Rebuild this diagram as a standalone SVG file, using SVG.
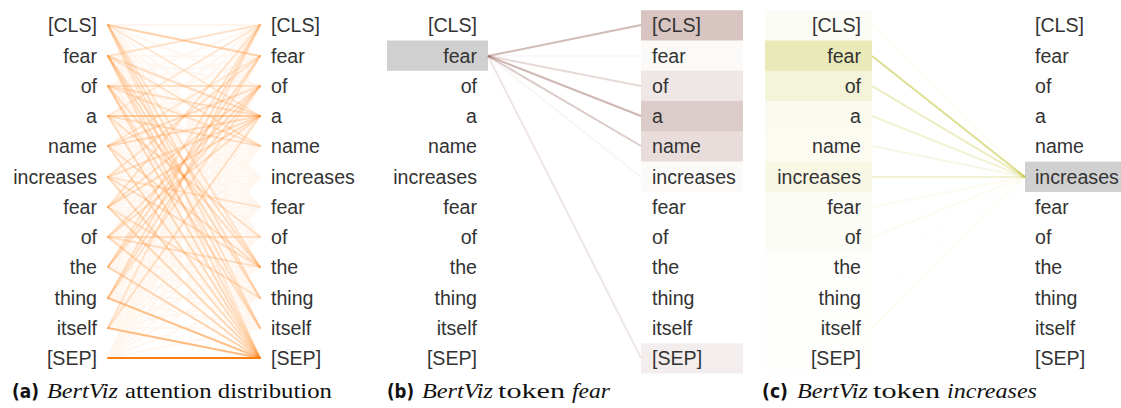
<svg xmlns="http://www.w3.org/2000/svg" width="1121" height="408" viewBox="0 0 1121 408">
  <style>
    .tok { font-family: "Liberation Sans", Arial, sans-serif; font-size: 19.6px; fill: #333; }
    .l { text-anchor: end; }
    .r { text-anchor: start; }
    .a-ln { stroke: #ff7f0e; stroke-width: 2; fill: none; stroke-linecap: round; }
    .b-ln { stroke: #8c564b; stroke-width: 2; fill: none; }
    .c-ln { stroke: #bcbd22; stroke-width: 2; fill: none; }
    .b-box { fill: #8c564b; }
    .c-box { fill: #bcbd22; }
    .sel { fill: #d0d0d0; }
    .cap-tag { font-family: "DejaVu Sans", "Liberation Sans", sans-serif; font-weight: bold; font-size: 19px; fill: #111; }
    .cap { font-family: "Liberation Serif", "Times New Roman", serif; font-size: 21px; fill: #111; }
    .it { font-style: italic; }
  </style>
  <rect width="1121" height="408" fill="#fff"/>

  <!-- ===== (a) attention distribution ===== -->
  <g id="panel-a-connectors">
    <!-- faint base: every left token to every right token -->
    <g opacity="0.06">
      <path class="a-ln" d="M108,25L260,25M108,25L260,56M108,25L260,86M108,25L260,116M108,25L260,146M108,25L260,177M108,25L260,207M108,25L260,237M108,25L260,267M108,25L260,298M108,25L260,328M108,25L260,358"/>
      <path class="a-ln" d="M108,56L260,25M108,56L260,56M108,56L260,86M108,56L260,116M108,56L260,146M108,56L260,177M108,56L260,207M108,56L260,237M108,56L260,267M108,56L260,298M108,56L260,328M108,56L260,358"/>
      <path class="a-ln" d="M108,86L260,25M108,86L260,56M108,86L260,86M108,86L260,116M108,86L260,146M108,86L260,177M108,86L260,207M108,86L260,237M108,86L260,267M108,86L260,298M108,86L260,328M108,86L260,358"/>
      <path class="a-ln" d="M108,116L260,25M108,116L260,56M108,116L260,86M108,116L260,116M108,116L260,146M108,116L260,177M108,116L260,207M108,116L260,237M108,116L260,267M108,116L260,298M108,116L260,328M108,116L260,358"/>
      <path class="a-ln" d="M108,146L260,25M108,146L260,56M108,146L260,86M108,146L260,116M108,146L260,146M108,146L260,177M108,146L260,207M108,146L260,237M108,146L260,267M108,146L260,298M108,146L260,328M108,146L260,358"/>
      <path class="a-ln" d="M108,177L260,25M108,177L260,56M108,177L260,86M108,177L260,116M108,177L260,146M108,177L260,177M108,177L260,207M108,177L260,237M108,177L260,267M108,177L260,298M108,177L260,328M108,177L260,358"/>
      <path class="a-ln" d="M108,207L260,25M108,207L260,56M108,207L260,86M108,207L260,116M108,207L260,146M108,207L260,177M108,207L260,207M108,207L260,237M108,207L260,267M108,207L260,298M108,207L260,328M108,207L260,358"/>
      <path class="a-ln" d="M108,237L260,25M108,237L260,56M108,237L260,86M108,237L260,116M108,237L260,146M108,237L260,177M108,237L260,207M108,237L260,237M108,237L260,267M108,237L260,298M108,237L260,328M108,237L260,358"/>
      <path class="a-ln" d="M108,267L260,25M108,267L260,56M108,267L260,86M108,267L260,116M108,267L260,146M108,267L260,177M108,267L260,207M108,267L260,237M108,267L260,267M108,267L260,298M108,267L260,328M108,267L260,358"/>
      <path class="a-ln" d="M108,298L260,25M108,298L260,56M108,298L260,86M108,298L260,116M108,298L260,146M108,298L260,177M108,298L260,207M108,298L260,237M108,298L260,267M108,298L260,298M108,298L260,328M108,298L260,358"/>
      <path class="a-ln" d="M108,328L260,25M108,328L260,56M108,328L260,86M108,328L260,116M108,328L260,146M108,328L260,177M108,328L260,207M108,328L260,237M108,328L260,267M108,328L260,298M108,328L260,328M108,328L260,358"/>
      <path class="a-ln" d="M108,358L260,25M108,358L260,56M108,358L260,86M108,358L260,116M108,358L260,146M108,358L260,177M108,358L260,207M108,358L260,237M108,358L260,267M108,358L260,298M108,358L260,328"/>
    </g>
    <!-- stronger attention weights -->
    <line class="a-ln" x1="108" y1="25" x2="260" y2="56" opacity="0.3"/>
    <line class="a-ln" x1="108" y1="25" x2="260" y2="116" opacity="0.13"/>
    <line class="a-ln" x1="108" y1="25" x2="260" y2="267" opacity="0.17"/>
    <line class="a-ln" x1="108" y1="25" x2="260" y2="298" opacity="0.2"/>
    <line class="a-ln" x1="108" y1="25" x2="260" y2="328" opacity="0.17"/>
    <line class="a-ln" x1="108" y1="25" x2="260" y2="358" opacity="0.13"/>

    <line class="a-ln" x1="108" y1="56" x2="260" y2="25" opacity="0.17"/>
    <line class="a-ln" x1="108" y1="56" x2="260" y2="116" opacity="0.2"/>
    <line class="a-ln" x1="108" y1="56" x2="260" y2="146" opacity="0.17"/>
    <line class="a-ln" x1="108" y1="56" x2="260" y2="267" opacity="0.2"/>
    <line class="a-ln" x1="108" y1="56" x2="260" y2="298" opacity="0.23"/>
    <line class="a-ln" x1="108" y1="56" x2="260" y2="328" opacity="0.2"/>
    <line class="a-ln" x1="108" y1="56" x2="260" y2="358" opacity="0.2"/>

    <line class="a-ln" x1="108" y1="86" x2="260" y2="86" opacity="0.2"/>
    <line class="a-ln" x1="108" y1="86" x2="260" y2="116" opacity="0.2"/>
    <line class="a-ln" x1="108" y1="86" x2="260" y2="146" opacity="0.17"/>
    <line class="a-ln" x1="108" y1="86" x2="260" y2="267" opacity="0.2"/>
    <line class="a-ln" x1="108" y1="86" x2="260" y2="328" opacity="0.2"/>
    <line class="a-ln" x1="108" y1="86" x2="260" y2="358" opacity="0.23"/>

    <line class="a-ln" x1="108" y1="116" x2="260" y2="25" opacity="0.13"/>
    <line class="a-ln" x1="108" y1="116" x2="260" y2="116" opacity="0.35"/>
    <line class="a-ln" x1="108" y1="116" x2="260" y2="146" opacity="0.2"/>
    <line class="a-ln" x1="108" y1="116" x2="260" y2="237" opacity="0.2"/>
    <line class="a-ln" x1="108" y1="116" x2="260" y2="358" opacity="0.23"/>

    <line class="a-ln" x1="108" y1="146" x2="260" y2="56" opacity="0.13"/>
    <line class="a-ln" x1="108" y1="146" x2="260" y2="86" opacity="0.2"/>
    <line class="a-ln" x1="108" y1="146" x2="260" y2="116" opacity="0.23"/>
    <line class="a-ln" x1="108" y1="146" x2="260" y2="267" opacity="0.2"/>
    <line class="a-ln" x1="108" y1="146" x2="260" y2="358" opacity="0.23"/>

    <line class="a-ln" x1="108" y1="177" x2="260" y2="56" opacity="0.17"/>
    <line class="a-ln" x1="108" y1="177" x2="260" y2="116" opacity="0.2"/>
    <line class="a-ln" x1="108" y1="177" x2="260" y2="207" opacity="0.17"/>
    <line class="a-ln" x1="108" y1="177" x2="260" y2="267" opacity="0.2"/>
    <line class="a-ln" x1="108" y1="177" x2="260" y2="358" opacity="0.23"/>

    <line class="a-ln" x1="108" y1="207" x2="260" y2="25" opacity="0.17"/>
    <line class="a-ln" x1="108" y1="207" x2="260" y2="86" opacity="0.2"/>
    <line class="a-ln" x1="108" y1="207" x2="260" y2="116" opacity="0.23"/>
    <line class="a-ln" x1="108" y1="207" x2="260" y2="298" opacity="0.2"/>
    <line class="a-ln" x1="108" y1="207" x2="260" y2="358" opacity="0.26"/>

    <line class="a-ln" x1="108" y1="237" x2="260" y2="86" opacity="0.2"/>
    <line class="a-ln" x1="108" y1="237" x2="260" y2="116" opacity="0.2"/>
    <line class="a-ln" x1="108" y1="237" x2="260" y2="237" opacity="0.2"/>
    <line class="a-ln" x1="108" y1="237" x2="260" y2="267" opacity="0.2"/>
    <line class="a-ln" x1="108" y1="237" x2="260" y2="358" opacity="0.26"/>

    <line class="a-ln" x1="108" y1="267" x2="260" y2="25" opacity="0.17"/>
    <line class="a-ln" x1="108" y1="267" x2="260" y2="56" opacity="0.2"/>
    <line class="a-ln" x1="108" y1="267" x2="260" y2="86" opacity="0.2"/>
    <line class="a-ln" x1="108" y1="267" x2="260" y2="358" opacity="0.3"/>

    <line class="a-ln" x1="108" y1="298" x2="260" y2="25" opacity="0.2"/>
    <line class="a-ln" x1="108" y1="298" x2="260" y2="56" opacity="0.2"/>
    <line class="a-ln" x1="108" y1="298" x2="260" y2="86" opacity="0.17"/>
    <line class="a-ln" x1="108" y1="298" x2="260" y2="358" opacity="0.45"/>

    <line class="a-ln" x1="108" y1="328" x2="260" y2="25" opacity="0.17"/>
    <line class="a-ln" x1="108" y1="328" x2="260" y2="116" opacity="0.2"/>
    <line class="a-ln" x1="108" y1="328" x2="260" y2="358" opacity="0.5"/>

    <line class="a-ln" x1="108" y1="358" x2="260" y2="358" opacity="1" stroke-width="2.5"/>
  </g>

  <g id="panel-a-left">
    <text class="tok l" x="97" y="32">[CLS]</text>
    <text class="tok l" x="97" y="63">fear</text>
    <text class="tok l" x="97" y="93">of</text>
    <text class="tok l" x="97" y="123">a</text>
    <text class="tok l" x="97" y="153">name</text>
    <text class="tok l" x="97" y="184">increases</text>
    <text class="tok l" x="97" y="214">fear</text>
    <text class="tok l" x="97" y="244">of</text>
    <text class="tok l" x="97" y="274">the</text>
    <text class="tok l" x="97" y="305">thing</text>
    <text class="tok l" x="97" y="335">itself</text>
    <text class="tok l" x="97" y="365">[SEP]</text>
  </g>
  <g id="panel-a-right">
    <text class="tok r" x="271" y="32">[CLS]</text>
    <text class="tok r" x="271" y="63">fear</text>
    <text class="tok r" x="271" y="93">of</text>
    <text class="tok r" x="271" y="123">a</text>
    <text class="tok r" x="271" y="153">name</text>
    <text class="tok r" x="271" y="184">increases</text>
    <text class="tok r" x="271" y="214">fear</text>
    <text class="tok r" x="271" y="244">of</text>
    <text class="tok r" x="271" y="274">the</text>
    <text class="tok r" x="271" y="305">thing</text>
    <text class="tok r" x="271" y="335">itself</text>
    <text class="tok r" x="271" y="365">[SEP]</text>
  </g>

  <!-- ===== (b) token "fear" ===== -->
  <g id="panel-b-boxes">
    <rect class="sel" x="387" y="40.5" width="101" height="30.3"/>
    <rect class="b-box" x="641" y="10.2" width="102" height="30.3" opacity="0.34"/>
    <rect class="b-box" x="641" y="40.5" width="102" height="30.3" opacity="0.03"/>
    <rect class="b-box" x="641" y="70.7" width="102" height="30.3" opacity="0.14"/>
    <rect class="b-box" x="641" y="101" width="102" height="30.3" opacity="0.3"/>
    <rect class="b-box" x="641" y="131.3" width="102" height="30.3" opacity="0.2"/>
    <rect class="b-box" x="641" y="161.6" width="102" height="30.3" opacity="0.03"/>
    <rect class="b-box" x="641" y="343.2" width="102" height="30.3" opacity="0.1"/>
  </g>
  <g id="panel-b-connectors">
    <line class="b-ln" x1="488" y1="56" x2="641" y2="25" opacity="0.4"/>
    <line class="b-ln" x1="488" y1="56" x2="641" y2="56" opacity="0.04"/>
    <line class="b-ln" x1="488" y1="56" x2="641" y2="86" opacity="0.22"/>
    <line class="b-ln" x1="488" y1="56" x2="641" y2="116" opacity="0.42"/>
    <line class="b-ln" x1="488" y1="56" x2="641" y2="146" opacity="0.3"/>
    <line class="b-ln" x1="488" y1="56" x2="641" y2="177" opacity="0.05"/>
    <line class="b-ln" x1="488" y1="56" x2="641" y2="358" opacity="0.15"/>
  </g>
  <g id="panel-b-left">
    <text class="tok l" x="477" y="32">[CLS]</text>
    <text class="tok l" x="477" y="63">fear</text>
    <text class="tok l" x="477" y="93">of</text>
    <text class="tok l" x="477" y="123">a</text>
    <text class="tok l" x="477" y="153">name</text>
    <text class="tok l" x="477" y="184">increases</text>
    <text class="tok l" x="477" y="214">fear</text>
    <text class="tok l" x="477" y="244">of</text>
    <text class="tok l" x="477" y="274">the</text>
    <text class="tok l" x="477" y="305">thing</text>
    <text class="tok l" x="477" y="335">itself</text>
    <text class="tok l" x="477" y="365">[SEP]</text>
  </g>
  <g id="panel-b-right">
    <text class="tok r" x="652" y="32">[CLS]</text>
    <text class="tok r" x="652" y="63">fear</text>
    <text class="tok r" x="652" y="93">of</text>
    <text class="tok r" x="652" y="123">a</text>
    <text class="tok r" x="652" y="153">name</text>
    <text class="tok r" x="652" y="184">increases</text>
    <text class="tok r" x="652" y="214">fear</text>
    <text class="tok r" x="652" y="244">of</text>
    <text class="tok r" x="652" y="274">the</text>
    <text class="tok r" x="652" y="305">thing</text>
    <text class="tok r" x="652" y="335">itself</text>
    <text class="tok r" x="652" y="365">[SEP]</text>
  </g>

  <!-- ===== (c) token "increases" ===== -->
  <g id="panel-c-boxes">
    <rect class="c-box" x="765" y="10.2" width="107" height="30.3" opacity="0.04"/>
    <rect class="c-box" x="765" y="40.5" width="107" height="30.3" opacity="0.32"/>
    <rect class="c-box" x="765" y="70.7" width="107" height="30.3" opacity="0.17"/>
    <rect class="c-box" x="765" y="101" width="107" height="30.3" opacity="0.08"/>
    <rect class="c-box" x="765" y="131.3" width="107" height="30.3" opacity="0.06"/>
    <rect class="c-box" x="765" y="161.6" width="107" height="30.3" opacity="0.12"/>
    <rect class="c-box" x="765" y="191.8" width="107" height="30.3" opacity="0.04"/>
    <rect class="c-box" x="765" y="222.1" width="107" height="30.3" opacity="0.04"/>
    <rect class="c-box" x="765" y="252.4" width="107" height="121.1" opacity="0.015"/>
    <rect class="sel" x="1025" y="161.6" width="96" height="30.3"/>
  </g>
  <g id="panel-c-connectors">
    <line class="c-ln" x1="1025" y1="177" x2="872" y2="25" opacity="0.05"/>
    <line class="c-ln" x1="1025" y1="177" x2="872" y2="56" opacity="0.5"/>
    <line class="c-ln" x1="1025" y1="177" x2="872" y2="86" opacity="0.3"/>
    <line class="c-ln" x1="1025" y1="177" x2="872" y2="116" opacity="0.2"/>
    <line class="c-ln" x1="1025" y1="177" x2="872" y2="146" opacity="0.12"/>
    <line class="c-ln" x1="1025" y1="177" x2="872" y2="177" opacity="0.2"/>
    <line class="c-ln" x1="1025" y1="177" x2="872" y2="207" opacity="0.06"/>
    <line class="c-ln" x1="1025" y1="177" x2="872" y2="237" opacity="0.06"/>
    <line class="c-ln" x1="1025" y1="177" x2="872" y2="267" opacity="0.02"/>
    <line class="c-ln" x1="1025" y1="177" x2="872" y2="298" opacity="0.02"/>
    <line class="c-ln" x1="1025" y1="177" x2="872" y2="328" opacity="0.05"/>
  </g>
  <g id="panel-c-left">
    <text class="tok l" x="861" y="32">[CLS]</text>
    <text class="tok l" x="861" y="63">fear</text>
    <text class="tok l" x="861" y="93">of</text>
    <text class="tok l" x="861" y="123">a</text>
    <text class="tok l" x="861" y="153">name</text>
    <text class="tok l" x="861" y="184">increases</text>
    <text class="tok l" x="861" y="214">fear</text>
    <text class="tok l" x="861" y="244">of</text>
    <text class="tok l" x="861" y="274">the</text>
    <text class="tok l" x="861" y="305">thing</text>
    <text class="tok l" x="861" y="335">itself</text>
    <text class="tok l" x="861" y="365">[SEP]</text>
  </g>
  <g id="panel-c-right">
    <text class="tok r" x="1035" y="32">[CLS]</text>
    <text class="tok r" x="1035" y="63">fear</text>
    <text class="tok r" x="1035" y="93">of</text>
    <text class="tok r" x="1035" y="123">a</text>
    <text class="tok r" x="1035" y="153">name</text>
    <text class="tok r" x="1035" y="184">increases</text>
    <text class="tok r" x="1035" y="214">fear</text>
    <text class="tok r" x="1035" y="244">of</text>
    <text class="tok r" x="1035" y="274">the</text>
    <text class="tok r" x="1035" y="305">thing</text>
    <text class="tok r" x="1035" y="335">itself</text>
    <text class="tok r" x="1035" y="365">[SEP]</text>
  </g>

  <!-- ===== captions ===== -->
  <g id="caption-a">
    <text class="cap-tag" x="12" y="398" textLength="27" lengthAdjust="spacingAndGlyphs">(a)</text>
    <text class="cap it" x="47" y="398" textLength="71" lengthAdjust="spacingAndGlyphs">BertViz</text>
    <text class="cap" x="125" y="398" textLength="207" lengthAdjust="spacingAndGlyphs">attention distribution</text>
  </g>
  <g id="caption-b">
    <text class="cap-tag" x="387" y="398" textLength="27" lengthAdjust="spacingAndGlyphs">(b)</text>
    <text class="cap it" x="422" y="398" textLength="71" lengthAdjust="spacingAndGlyphs">BertViz</text>
    <text class="cap" x="498" y="398" textLength="67" lengthAdjust="spacingAndGlyphs">token</text>
    <text class="cap it" x="572" y="398" textLength="38" lengthAdjust="spacingAndGlyphs">fear</text>
  </g>
  <g id="caption-c">
    <text class="cap-tag" x="762" y="398" textLength="26" lengthAdjust="spacingAndGlyphs">(c)</text>
    <text class="cap it" x="797" y="398" textLength="71" lengthAdjust="spacingAndGlyphs">BertViz</text>
    <text class="cap" x="873" y="398" textLength="67" lengthAdjust="spacingAndGlyphs">token</text>
    <text class="cap it" x="947" y="398" textLength="90" lengthAdjust="spacingAndGlyphs">increases</text>
  </g>
</svg>
